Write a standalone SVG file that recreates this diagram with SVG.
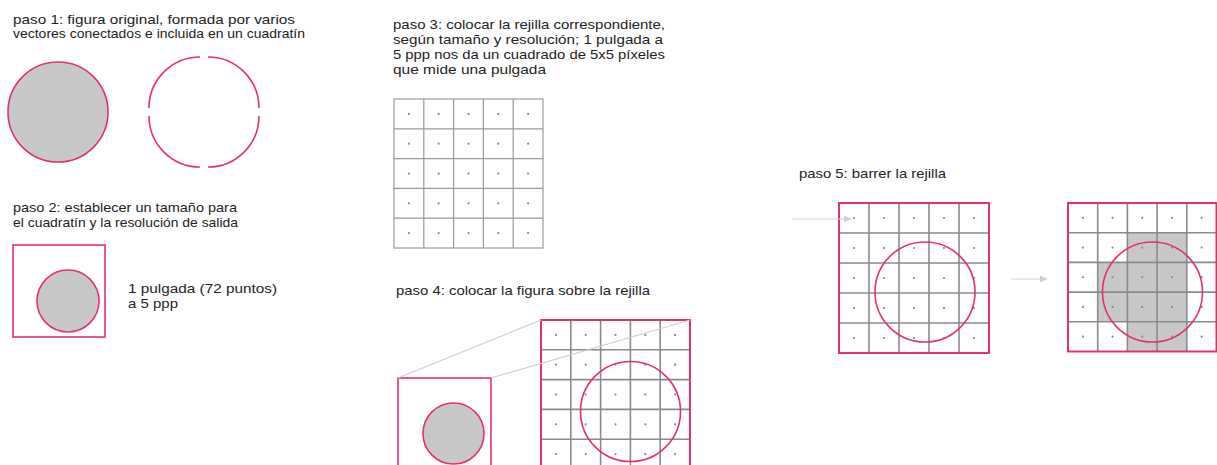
<svg xmlns="http://www.w3.org/2000/svg" width="1217" height="465" viewBox="0 0 1217 465">
<style>
text{font-family:"Liberation Sans",Arial,sans-serif;font-size:12.9px;fill:#222}
.pk{fill:none;stroke:#e5306a;stroke-width:1.6}
.pkb{fill:none;stroke:#e5306a;stroke-width:2}
.fill{fill:#c8c8c8;stroke:#e5306a;stroke-width:1.6}
.g3{stroke:#999;stroke-width:1.2;fill:none}
.g{stroke:#8a8a8a;stroke-width:1.6;fill:none}
.dot{fill:#888}
.conn{stroke:#cfcfcf;stroke-width:1.2;fill:none}
.cell{fill:#c8c8c8}
</style>
<defs>
<marker id="ah" viewBox="0 0 10 10" refX="10" refY="5" markerWidth="8" markerHeight="7" markerUnits="userSpaceOnUse" orient="auto"><path d="M0,0 L10,5 L0,10 z" fill="#cfcfcf"/></marker>
<g id="dots30">
<circle class="dot" cx="15" cy="15" r="1.1"/><circle class="dot" cx="45" cy="15" r="1.1"/><circle class="dot" cx="75" cy="15" r="1.1"/><circle class="dot" cx="105" cy="15" r="1.1"/><circle class="dot" cx="135" cy="15" r="1.1"/>
<circle class="dot" cx="15" cy="45" r="1.1"/><circle class="dot" cx="45" cy="45" r="1.1"/><circle class="dot" cx="75" cy="45" r="1.1"/><circle class="dot" cx="105" cy="45" r="1.1"/><circle class="dot" cx="135" cy="45" r="1.1"/>
<circle class="dot" cx="15" cy="75" r="1.1"/><circle class="dot" cx="45" cy="75" r="1.1"/><circle class="dot" cx="75" cy="75" r="1.1"/><circle class="dot" cx="105" cy="75" r="1.1"/><circle class="dot" cx="135" cy="75" r="1.1"/>
<circle class="dot" cx="15" cy="105" r="1.1"/><circle class="dot" cx="45" cy="105" r="1.1"/><circle class="dot" cx="75" cy="105" r="1.1"/><circle class="dot" cx="105" cy="105" r="1.1"/><circle class="dot" cx="135" cy="105" r="1.1"/>
<circle class="dot" cx="15" cy="135" r="1.1"/><circle class="dot" cx="45" cy="135" r="1.1"/><circle class="dot" cx="75" cy="135" r="1.1"/><circle class="dot" cx="105" cy="135" r="1.1"/><circle class="dot" cx="135" cy="135" r="1.1"/>
</g>
<path id="inner30" d="M30,0V150M60,0V150M90,0V150M120,0V150M0,30H150M0,60H150M0,90H150M0,120H150"/>
</defs>

<g id="step1">
<text><tspan x="13" y="23.5" textLength="282" lengthAdjust="spacingAndGlyphs">paso 1: figura original, formada por varios</tspan><tspan x="13" y="38" textLength="292" lengthAdjust="spacingAndGlyphs">vectores conectados e incluida en un cuadratín</tspan></text>
<circle class="fill" cx="58" cy="112" r="50"/>
<path class="pk" d="M208,57 A51,51 0 0 1 259,108 M259,116 A51,51 0 0 1 208,167 M200,167 A51,51 0 0 1 149,116 M149,108 A51,51 0 0 1 200,57"/>
</g>

<g id="step2">
<text><tspan x="13" y="212" textLength="224" lengthAdjust="spacingAndGlyphs">paso 2: establecer un tamaño para</tspan><tspan x="13" y="226.5" textLength="225" lengthAdjust="spacingAndGlyphs">el cuadratín y la resolución de salida</tspan></text>
<rect class="pk" x="13" y="245" width="92" height="92"/>
<circle class="fill" cx="68" cy="301" r="31"/>
<text><tspan x="128" y="293" textLength="149" lengthAdjust="spacingAndGlyphs">1 pulgada (72 puntos)</tspan><tspan x="128" y="308" textLength="50" lengthAdjust="spacingAndGlyphs">a 5 ppp</tspan></text>
</g>

<g id="step3">
<text><tspan x="393" y="29" textLength="272" lengthAdjust="spacingAndGlyphs">paso 3: colocar la rejilla correspondiente,</tspan><tspan x="393" y="44" textLength="270" lengthAdjust="spacingAndGlyphs">según tamaño y resolución; 1 pulgada a</tspan><tspan x="393" y="59" textLength="272" lengthAdjust="spacingAndGlyphs">5 ppp nos da un cuadrado de 5x5 píxeles</tspan><tspan x="393" y="74" textLength="153" lengthAdjust="spacingAndGlyphs">que mide una pulgada</tspan></text>
<g transform="translate(394,99) scale(0.9933)">
<rect class="g3" x="0" y="0" width="150" height="150"/>
<use href="#inner30" class="g3"/>
<use href="#dots30"/>
</g>
</g>

<g id="step4">
<text x="396" y="295" textLength="254" lengthAdjust="spacingAndGlyphs">paso 4: colocar la figura sobre la rejilla</text>
<rect class="pk" x="398" y="378" width="93" height="100"/>
<circle class="fill" cx="453.5" cy="433.5" r="30.5"/>
<g transform="translate(541,320) scale(0.9933)">
<use href="#inner30" class="g"/>
<use href="#dots30"/>
<rect class="pkb" x="0" y="0" width="150" height="150"/>
</g>
<circle class="pk" cx="630.5" cy="411.5" r="50"/>
</g>

<g id="step5a">
<text x="799" y="178" textLength="147" lengthAdjust="spacingAndGlyphs">paso 5: barrer la rejilla</text>
<g transform="translate(839,203)">
<use href="#inner30" class="g"/>
<use href="#dots30"/>
<rect class="pkb" x="0" y="0" width="150" height="150"/>
</g>
<circle class="pk" cx="925" cy="292" r="50"/>
</g>

<g id="step5b">
<g transform="translate(1068,203) scale(0.99)">
<rect class="cell" x="60" y="30" width="60" height="30"/>
<rect class="cell" x="30" y="60" width="90" height="60"/>
<rect class="cell" x="60" y="120" width="60" height="30"/>
<use href="#inner30" class="g"/>
<use href="#dots30"/>
<rect class="pkb" x="0" y="0" width="150" height="150"/>
</g>
<circle class="pk" cx="1152.5" cy="292" r="50"/>
</g>

<g id="connectors">
<line class="conn" x1="398" y1="378" x2="541" y2="320"/>
<line class="conn" x1="491" y1="378" x2="690" y2="320"/>
<line class="conn" x1="792" y1="219" x2="851" y2="219" marker-end="url(#ah)"/>
<line class="conn" x1="1011" y1="279" x2="1047" y2="279" marker-end="url(#ah)"/>
</g>
</svg>
